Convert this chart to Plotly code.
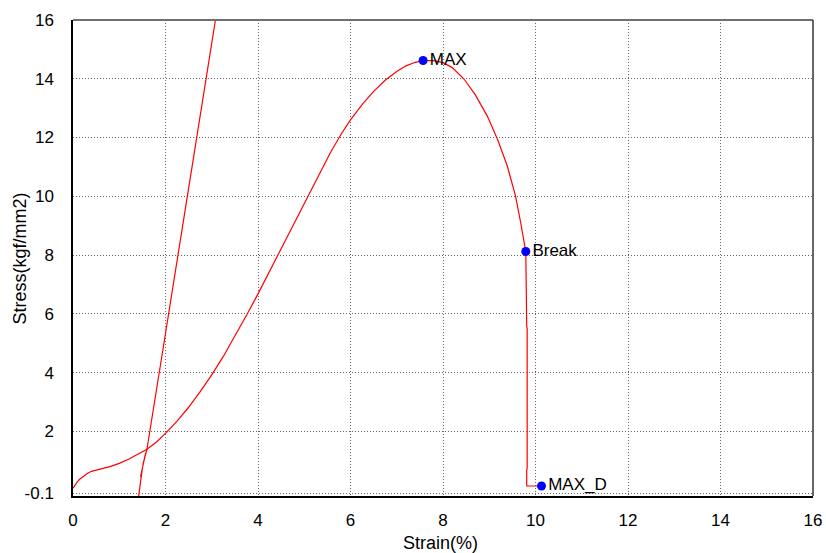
import plotly.graph_objects as go

# Main stress-strain curve
main_x = [0.00, 0.05, 0.10, 0.15, 0.20, 0.30, 0.40, 0.50, 0.65, 0.80, 1.00, 1.20, 1.40, 1.60,
          1.80, 2.00, 2.25, 2.50, 2.75, 3.00, 3.25, 3.50, 3.77, 4.00, 4.25, 4.50, 4.75, 5.00,
          5.25, 5.57, 5.80, 6.00, 6.25, 6.50, 6.75, 7.00, 7.20, 7.40, 7.57, 7.80, 8.00, 8.20,
          8.45, 8.70, 8.96, 9.18, 9.39, 9.57, 9.68, 9.74, 9.79, 9.81, 9.82, 9.82, 9.81, 9.81,
          10.13]
main_y = [0.07, 0.20, 0.30, 0.38, 0.45, 0.56, 0.64, 0.69, 0.74, 0.80, 0.91, 1.05, 1.21, 1.39,
          1.63, 1.93, 2.35, 2.82, 3.35, 3.92, 4.55, 5.23, 6.00, 6.68, 7.45, 8.23, 9.01, 9.78,
          10.54, 11.50, 12.12, 12.60, 13.12, 13.57, 13.95, 14.25, 14.44, 14.56, 14.62, 14.62, 14.55, 14.38,
          14.00, 13.45, 12.72, 11.93, 11.03, 10.00, 9.10, 8.60, 8.12, 5.56, 5.50, 0.75, 0.70, 0.14,
          0.14]

# Steep (modulus) line
steep_x = [1.42, 1.50, 1.46, 1.57, 1.51, 1.60, 1.89, 2.29, 2.68, 3.08]
steep_y = [-0.20, 0.75, 0.45, 1.25, 0.85, 1.40, 4.25, 8.20, 12.05, 16.00]

# Marked points
point_names = ["MAX", "Break", "MAX_D"]
point_x = [7.57, 9.79, 10.13]
point_y = [14.62, 8.12, 0.14]

# Axis ticks
x_ticks = [0, 2, 4, 6, 8, 10, 12, 14, 16]
y_ticks = [-0.1, 2, 4, 6, 8, 10, 12, 14, 16]
y_tick_labels = ["-0.1", "2", "4", "6", "8", "10", "12", "14", "16"]

FONT = "Liberation Sans, Arial, sans-serif"

fig = go.Figure()
fig.add_trace(go.Scatter(x=main_x, y=main_y, mode="lines",
                         line=dict(color="#ff0000", width=1.2),
                         showlegend=False, hoverinfo="skip"))
fig.add_trace(go.Scatter(x=steep_x, y=steep_y, mode="lines",
                         line=dict(color="#ff0000", width=1.2), showlegend=False,
                         hoverinfo="skip"))
fig.add_trace(go.Scatter(x=point_x, y=point_y, mode="markers+text",
                         text=point_names, textposition="middle right",
                         textfont=dict(family=FONT, size=17, color="#000000"),
                         marker=dict(color="#0000ff", size=9),
                         showlegend=False, cliponaxis=False))

fig.update_layout(
    width=826, height=553,
    margin=dict(l=73, r=13, t=20, b=57, autoexpand=False),
    paper_bgcolor="white", plot_bgcolor="white",
    font=dict(family=FONT, size=16, color="#000000"),
    showlegend=False,
)
fig.update_xaxes(
    range=[0, 16], tickvals=x_ticks, ticktext=[str(v) for v in x_ticks],
    showgrid=True, gridcolor="#666666", griddash="1px,2px", gridwidth=1,
    showline=True, linecolor="#000000", linewidth=1.5, automargin=False,
    zeroline=False, ticks="", ticklabelstandoff=8,
    tickfont=dict(family=FONT, size=17, color="#000000"),
)
fig.update_yaxes(
    range=[-0.2, 16], tickvals=y_ticks, ticktext=y_tick_labels,
    showgrid=True, gridcolor="#666666", griddash="1px,2px", gridwidth=1,
    showline=True, linecolor="#000000", linewidth=1.5, automargin=False,
    zeroline=False, ticks="", ticklabelstandoff=14,
    tickfont=dict(family=FONT, size=17, color="#000000"),
)
# Top / right frame
fig.add_shape(type="line", xref="paper", yref="paper", x0=0, x1=1, y0=1, y1=1,
              line=dict(color="#6e6e6e", width=2))
fig.add_shape(type="line", xref="paper", yref="paper", x0=1, x1=1, y0=0, y1=1,
              line=dict(color="#333333", width=1.5))

fig.add_annotation(text="Stress(kgf/mm2)", xref="paper", yref="paper",
                   x=-0.071, y=0.5, xanchor="center", yanchor="middle",
                   textangle=-90, showarrow=False,
                   font=dict(family=FONT, size=18, color="#000000"))
fig.add_annotation(text="Strain(%)", xref="paper", yref="paper",
                   x=0.497, y=-0.099, xanchor="center", yanchor="middle",
                   showarrow=False,
                   font=dict(family=FONT, size=18, color="#000000"))

fig.write_html("out.html")
